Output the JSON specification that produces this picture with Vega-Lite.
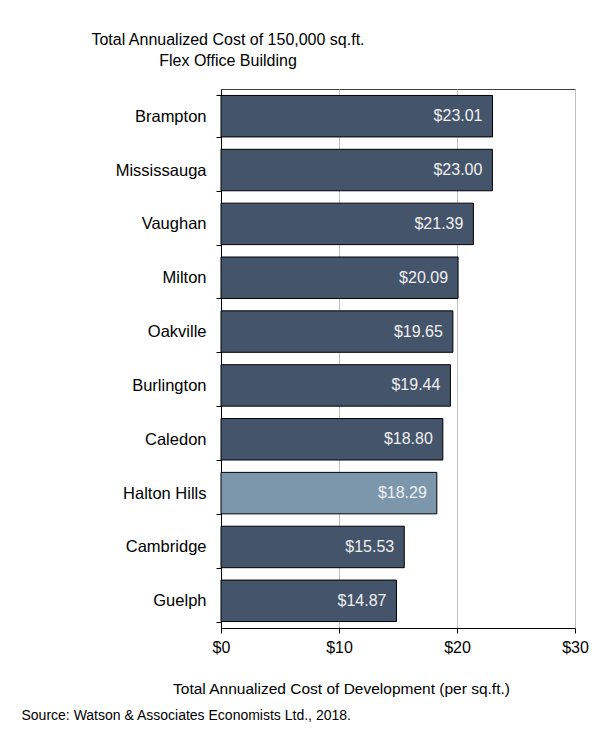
{
  "$schema": "https://vega.github.io/schema/vega-lite/v6.json",
  "autosize": "none",
  "width": 354,
  "height": 539,
  "padding": {"left": 221, "top": 89, "right": 35, "bottom": 102},
  "background": "white",
  "config": {
    "font": "Liberation Sans",
    "view": {"stroke": "#404040", "strokeWidth": 1}
  },
  "title": {
    "text": ["Total Annualized  Cost of 150,000 sq.ft.", "Flex Office Building"],
    "anchor": "middle",
    "frame": "group",
    "dx": -170,
    "dy": 28,
    "offset": 24,
    "baseline": "bottom",
    "fontSize": 16,
    "fontWeight": "normal",
    "color": "#000000",
    "lineHeight": 21
  },
  "data": {
    "values": [
      {"city": "Brampton", "cost": 23.01, "group": "other"},
      {"city": "Mississauga", "cost": 23.00, "group": "other"},
      {"city": "Vaughan", "cost": 21.39, "group": "other"},
      {"city": "Milton", "cost": 20.09, "group": "other"},
      {"city": "Oakville", "cost": 19.65, "group": "other"},
      {"city": "Burlington", "cost": 19.44, "group": "other"},
      {"city": "Caledon", "cost": 18.80, "group": "other"},
      {"city": "Halton Hills", "cost": 18.29, "group": "highlight"},
      {"city": "Cambridge", "cost": 15.53, "group": "other"},
      {"city": "Guelph", "cost": 14.87, "group": "other"}
    ]
  },
  "encoding": {
    "y": {
      "field": "city",
      "type": "nominal",
      "sort": null,
      "scale": {"paddingInner": 0.23, "paddingOuter": 0.12},
      "axis": {
        "title": "Source: Watson & Associates Economists Ltd., 2018.",
        "titleAngle": 0,
        "titleX": -200,
        "titleY": 630,
        "titleAlign": "left",
        "titleBaseline": "alphabetic",
        "titleFontSize": 14,
        "titleFontWeight": "normal",
        "titleColor": "#000000",
        "tickBand": "extent",
        "tickSize": 5,
        "tickColor": "#000000",
        "domainColor": "#000000",
        "labelFontSize": 16.5,
        "labelColor": "#000000",
        "labelPadding": 10,
        "grid": false
      }
    },
    "x": {
      "field": "cost",
      "type": "quantitative",
      "scale": {"domain": [0, 30], "nice": false},
      "axis": {
        "values": [0, 10, 20, 30],
        "format": "$.0f",
        "title": "Total  Annualized  Cost of Development  (per sq.ft.)",
        "titleX": 120,
        "titleY": 65,
        "titleAlign": "center",
        "titleBaseline": "alphabetic",
        "titleFontSize": 15.5,
        "titleFontWeight": "normal",
        "titleColor": "#000000",
        "grid": true,
        "gridColor": "#BFBFBF",
        "gridWidth": 1,
        "tickSize": 5,
        "tickColor": "#000000",
        "domainColor": "#000000",
        "labelFontSize": 16,
        "labelColor": "#000000",
        "labelPadding": 6,
        "labelFlush": false
      }
    }
  },
  "layer": [
    {
      "mark": {"type": "bar", "stroke": "#000000", "strokeWidth": 1},
      "encoding": {
        "color": {
          "field": "group",
          "type": "nominal",
          "scale": {"domain": ["other", "highlight"], "range": ["#44546A", "#7C97AB"]},
          "legend": null
        }
      }
    },
    {
      "mark": {"type": "text", "align": "right", "baseline": "middle", "dx": -10, "fontSize": 16, "color": "#F0F0F0"},
      "encoding": {
        "text": {"field": "cost", "type": "quantitative", "format": "$.2f"}
      }
    }
  ]
}
